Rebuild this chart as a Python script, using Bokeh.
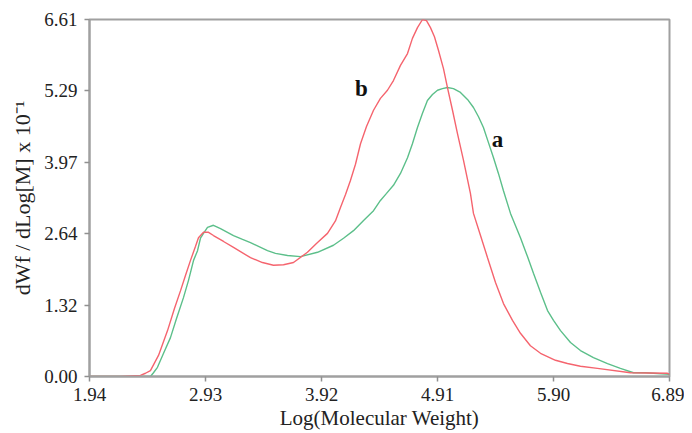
from bokeh.plotting import figure
from bokeh.models import Range1d, FixedTicker, NumeralTickFormatter
from bokeh.core.properties import value
from bokeh.embed import file_html
from bokeh.resources import INLINE

x_ticks = [1.94, 2.93, 3.92, 4.91, 5.90, 6.89]
y_ticks = [0.00, 1.32, 2.64, 3.97, 5.29, 6.61]

b_x = [1.94, 2.20, 2.375, 2.418, 2.46, 2.529, 2.606, 2.665, 2.717, 2.759, 2.802, 2.845,
       2.870, 2.913, 2.956, 2.998, 3.084, 3.169, 3.314, 3.416, 3.510, 3.596, 3.681,
       3.800, 3.886, 3.971, 4.039, 4.082, 4.125, 4.167, 4.210, 4.253, 4.304, 4.364,
       4.423, 4.483, 4.534, 4.594, 4.654, 4.696, 4.739, 4.782, 4.816, 4.850, 4.884,
       4.918, 4.961, 4.995, 5.038, 5.080, 5.132, 5.191, 5.217, 5.277, 5.337, 5.405,
       5.473, 5.550, 5.618, 5.703, 5.789, 5.917, 6.019, 6.130, 6.275, 6.557, 6.873, 6.89]
b_y = [0.00, 0.00, 0.02, 0.06, 0.11, 0.39, 0.85, 1.26, 1.59, 1.87, 2.15, 2.41,
       2.57, 2.67, 2.67, 2.61, 2.50, 2.39, 2.20, 2.11, 2.06, 2.07, 2.11,
       2.30, 2.48, 2.65, 2.88, 3.13, 3.37, 3.63, 3.93, 4.31, 4.63, 4.93,
       5.15, 5.30, 5.48, 5.76, 5.98, 6.26, 6.46, 6.61, 6.59, 6.46, 6.29,
       6.04, 5.70, 5.35, 4.93, 4.50, 4.00, 3.39, 3.02, 2.61, 2.20, 1.74,
       1.35, 1.04, 0.80, 0.57, 0.43, 0.30, 0.24, 0.19, 0.15, 0.07, 0.06, 0.04]

a_x = [1.94, 2.46, 2.486, 2.520, 2.572, 2.631, 2.682, 2.742, 2.785, 2.828, 2.862, 2.887,
       2.913, 2.947, 2.998, 3.058, 3.169, 3.246, 3.314, 3.459, 3.527, 3.630, 3.741,
       3.886, 4.022, 4.108, 4.193, 4.279, 4.364, 4.423, 4.475, 4.534, 4.594, 4.654,
       4.696, 4.739, 4.781, 4.824, 4.867, 4.910, 4.952, 4.995, 5.046, 5.106, 5.166,
       5.217, 5.260, 5.302, 5.345, 5.388, 5.430, 5.473, 5.533, 5.618, 5.678, 5.729,
       5.789, 5.849, 5.900, 5.960, 6.045, 6.130, 6.241, 6.361, 6.471, 6.583, 6.685,
       6.753, 6.89]
a_y = [0.00, 0.00, 0.07, 0.17, 0.43, 0.72, 1.07, 1.46, 1.78, 2.15, 2.33, 2.56,
       2.65, 2.76, 2.80, 2.74, 2.61, 2.54, 2.48, 2.33, 2.28, 2.24, 2.22,
       2.30, 2.43, 2.56, 2.70, 2.89, 3.07, 3.26, 3.39, 3.54, 3.76, 4.05,
       4.31, 4.61, 4.87, 5.11, 5.22, 5.30, 5.33, 5.35, 5.33, 5.26, 5.13,
       4.98, 4.81, 4.61, 4.33, 4.05, 3.76, 3.44, 3.02, 2.57, 2.22, 1.91,
       1.56, 1.22, 1.04, 0.85, 0.63, 0.48, 0.35, 0.24, 0.15, 0.07, 0.07,
       0.06, 0.04]

label_text = ["b", "a"]
label_x = [4.261, 5.422]
label_y = [5.33, 4.39]

p = figure(width=684, height=433, output_backend="svg", toolbar_location=None,
           x_range=Range1d(1.94, 6.89), y_range=Range1d(0, 6.61),
           min_border_left=89, min_border_right=15, min_border_top=19, min_border_bottom=57)

p.grid.visible = False
p.outline_line_color = "#a0a0a0"
p.outline_line_width = 2

serif = "Liberation Serif"
for ax in (p.xaxis[0], p.yaxis[0]):
    ax.axis_line_color = "#a0a0a0"
    ax.axis_line_width = 2
    ax.major_tick_line_color = "#909090"
    ax.major_tick_line_width = 1.5
    ax.major_tick_out = 5
    ax.major_tick_in = 0
    ax.minor_tick_line_color = None
    ax.major_label_text_font = serif
    ax.major_label_text_font_size = "19px"
    ax.major_label_text_color = "#222222"
    ax.axis_label_text_font = serif
    ax.axis_label_text_font_style = "normal"
    ax.axis_label_text_color = "#222222"
    ax.formatter = NumeralTickFormatter(format="0.00")

p.xaxis.ticker = FixedTicker(ticks=x_ticks)
p.yaxis.ticker = FixedTicker(ticks=y_ticks)
p.xaxis.major_label_standoff = 6
p.yaxis.major_label_standoff = 7
p.xaxis.axis_label = "Log(Molecular Weight)"
p.yaxis.axis_label = "dWf / dLog[M] x 10\u207b\u00b9"
p.xaxis.axis_label_text_font_size = "21px"
p.yaxis.axis_label_text_font_size = "22px"
p.xaxis.axis_label_standoff = 2
p.yaxis.axis_label_standoff = 6

p.line(a_x, a_y, line_color="#5cbf8a", line_width=1.4)
p.line(b_x, b_y, line_color="#f5646e", line_width=1.4)

p.text(x=label_x, y=label_y, text=label_text, text_font=value(serif),
       text_font_style="bold", text_font_size="23px", text_color="#111111",
       text_align="center", text_baseline="middle")

open("out.html", "w").write(file_html(p, INLINE))
